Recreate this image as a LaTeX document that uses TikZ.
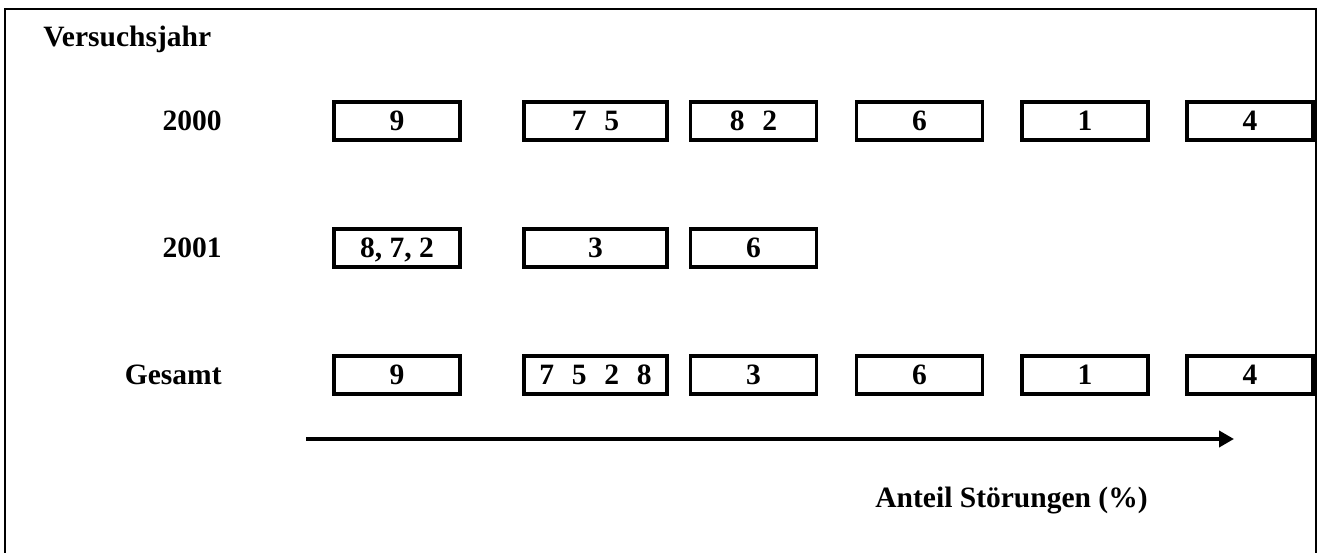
\documentclass[tikz,border=0pt]{standalone}
\usepackage{fontspec}
\setmainfont{Liberation Serif}
\usepackage{tikz}
\usetikzlibrary{arrows.meta,positioning,calc}

\tikzset{
    feld/.style={draw, line width=2.2pt, minimum width=2.52cm, minimum height=0.76cm, inner sep=0pt, text depth=0pt},
    feldbreit/.style={feld, minimum width=2.86cm},
    jahr/.style={anchor=east, inner sep=0pt},
    rahmen/.style={line width=1.1pt},
    achse/.style={line width=2.8pt, -{Triangle[length=0.3cm,width=0.32cm]}}
}

\begin{document}
\begin{tikzpicture}[x=0.02cm, y=-0.02cm, font=\fontsize{16.8}{20}\selectfont\bfseries]
    \useasboundingbox (0,0) rectangle (1319,553);

    % Rahmen
    \draw[rahmen] (5,553) -- (5,9) -- (1316,9) -- (1316,553);

    % Titel
    \node[anchor=base west, inner sep=0pt] (titel) at (43,47) {Versuchsjahr};

    % 2000
    \node[jahr] (j0) at (222,121) {2000};
    \node[feld] (a1) at (397,121) {9};
    \node[feldbreit] (a2) at (595.5,121) {7\hspace{0.6em}5};
    \node[feld] (a3) at (753.5,121) {8\hspace{0.6em}2};
    \foreach \n/\x/\t in {4/919.5/6, 5/1085/1, 6/1250/4} {
        \node[feld] (a\n) at (\x,121) {\t};
    }

    % 2001
    \node[jahr] (j1) at (222,248) {2001};
    \node[feld] (b1) at (397,248) {8, 7, 2};
    \node[feldbreit] (b2) at (595.5,248) {3};
    \node[feld] (b3) at (753.5,248) {6};

    % Gesamt
    \node[jahr] (jg) at (222,374.5) {Gesamt};
    \node[feld] (g1) at (397,375) {9};
    \node[feldbreit] (g2) at (595.5,375) {7\hspace{0.6em}5\hspace{0.6em}2\hspace{0.6em}8};
    \foreach \n/\x/\t in {3/753.5/3, 4/919.5/6, 5/1085/1, 6/1250/4} {
        \node[feld] (g\n) at (\x,375) {\t};
    }

    % Achse
    \coordinate (pfeilA) at (306,439);
    \coordinate (pfeilB) at (1234,439);
    \draw[achse] (pfeilA) -- (pfeilB);
    \node[anchor=base] (anteil) at (1011.5,508) {Anteil Störungen (\%)};
\end{tikzpicture}
\end{document}
